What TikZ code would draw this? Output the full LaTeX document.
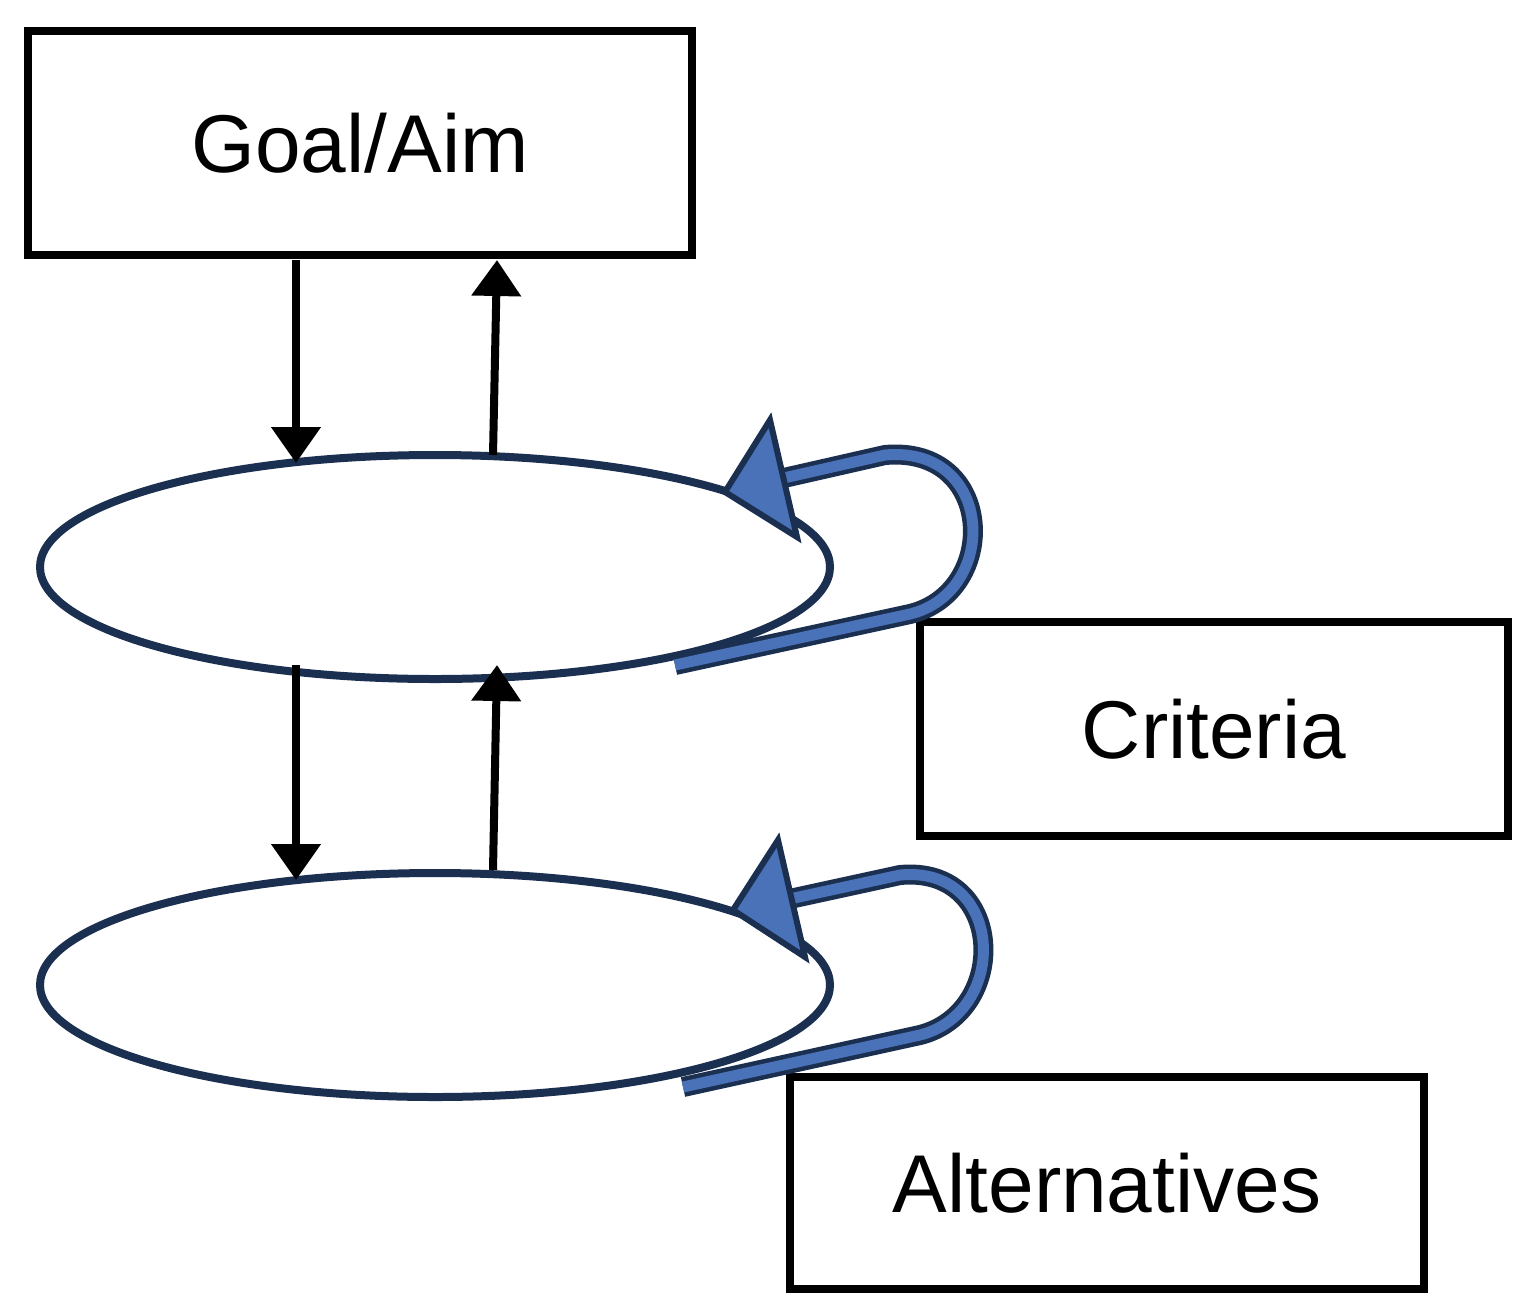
\documentclass[tikz,border=0pt]{standalone}
\usepackage{fontspec}
\setmainfont{Liberation Sans}
\begin{document}
\begin{tikzpicture}[x=0.5pt,y=-0.5pt,
  box/.style={draw=black,line width=4pt,minimum width=332pt,minimum height=112pt,font=\fontsize{41}{43}\selectfont,inner sep=0pt},
  ell/.style={draw=navy,line width=4pt,ellipse,minimum width=395pt,minimum height=112pt},
  arr/.style={line width=4pt,-{Triangle[length=18pt,width=24pt]}},
  loopo/.style={draw=navy,line width=10pt},
  loopi/.style={draw=lblue,line width=5.5pt}]
\usetikzlibrary{shapes.geometric,arrows.meta}
\definecolor{navy}{HTML}{1B3050}
\definecolor{lblue}{HTML}{4A72B8}
\useasboundingbox (0,0) rectangle (1529,1312);
\node[box,minimum width=332pt] (goal) at (360,143) {Goal/Aim};
\node[box,minimum width=294pt,minimum height=107pt] (crit) at (1214,729) {Criteria};
\node[box,minimum width=317pt,minimum height=106pt] (alt) at (1107,1183) {Alternatives};
\node[ell] (e1) at (435,567) {};
\node[ell] (e2) at (435,985) {};
\coordinate (a1) at (296,260); \coordinate (a2) at (296,463);
\coordinate (b1) at (493,455); \coordinate (b2) at (497,260);
\coordinate (c1) at (296,665); \coordinate (c2) at (296,880);
\coordinate (d1) at (493,870); \coordinate (d2) at (497,665);
\draw[arr] (a1) -- (a2);
\draw[arr] (b1) -- (b2);
\draw[arr] (c1) -- (c2);
\draw[arr] (d1) -- (d2);
% loop 1
\coordinate (l1s) at (675,665);
\foreach \s in {loopo,loopi}
 \draw[\s] (l1s) -- (910,614) .. controls (1000,592) and (995,445) .. (885,455) -- (775,480);
\draw[navy,line width=3pt,fill=lblue,line join=miter] (725,492) -- (770,420) -- (797,537) -- cycle;
% loop 2
\coordinate (l2s) at (683,1087);
\foreach \s in {loopo,loopi}
 \draw[\s] (l2s) -- (920,1035) .. controls (1010,1012) and (1005,865) .. (900,875) -- (785,900);
\draw[navy,line width=3pt,fill=lblue,line join=miter] (733,910) -- (778,840) -- (805,957) -- cycle;
\end{tikzpicture}
\end{document}
